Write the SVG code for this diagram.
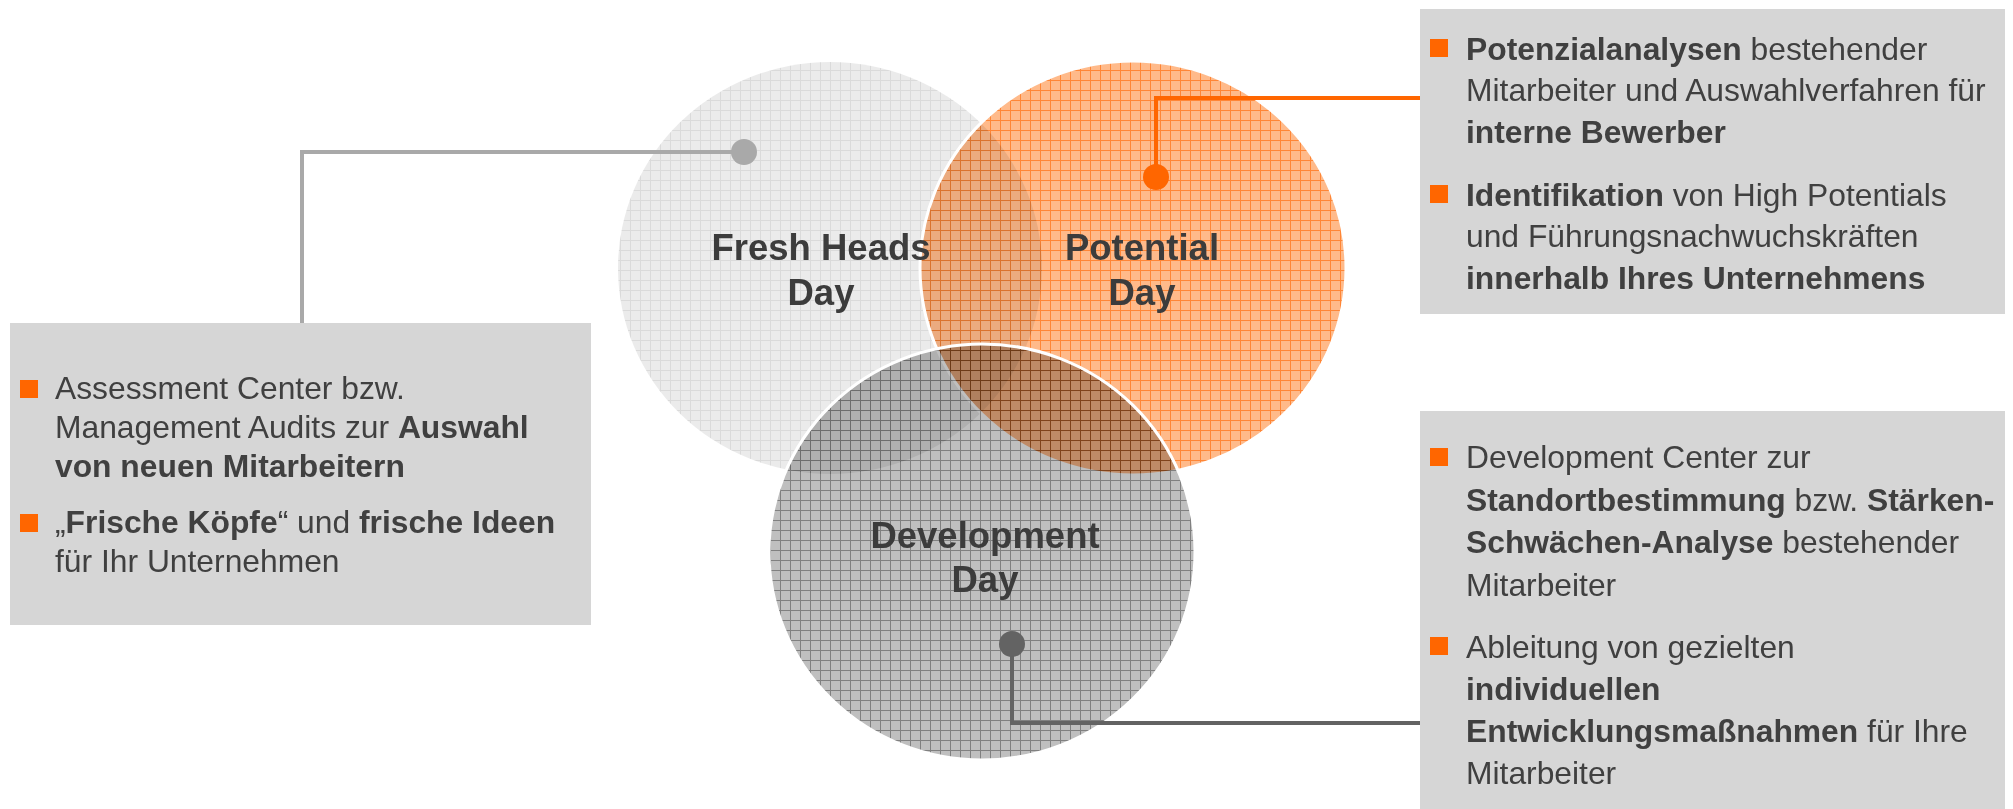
<svg xmlns="http://www.w3.org/2000/svg" width="2013" height="809" viewBox="0 0 2013 809">
  <style>
    .label { font-family: "Liberation Sans", Arial, sans-serif; font-size: 36.5px; font-weight: bold; fill: #3c3c3c; text-anchor: middle; }
    .txt { font-family: "Liberation Sans", Arial, sans-serif; font-size: 31.8px; fill: #404040; }
    .b { font-weight: bold; }
    .box { fill: #d6d6d6; }
    .bullet { fill: #ff6600; }
    .mult { mix-blend-mode: multiply; }
    .rim { fill: none; stroke: #ffffff; stroke-width: 3; }
    .conn { fill: none; stroke-width: 4; }
  </style>
  <defs>
    <pattern id="gFresh" width="10" height="10" patternUnits="userSpaceOnUse">
      <rect width="10" height="10" fill="#ebebeb"/>
      <path d="M0 0.5H10M0.5 0V10" stroke="#dadada" stroke-width="1"/>
    </pattern>
    <pattern id="gPot" width="10" height="10" patternUnits="userSpaceOnUse">
      <rect width="10" height="10" fill="#ffba8a"/>
      <path d="M0 0.5H10M0.5 0V10" stroke="#ff8636" stroke-width="1"/>
    </pattern>
    <pattern id="gDev" width="10" height="10" patternUnits="userSpaceOnUse">
      <rect width="10" height="10" fill="#bfbfbf"/>
      <path d="M0 0.5H10M0.5 0V10" stroke="#808080" stroke-width="1"/>
    </pattern>
  </defs>
  <rect width="2013" height="809" fill="#ffffff"/>

  <g id="node-fresh-heads">
    <ellipse cx="830" cy="268" rx="212" ry="206" fill="url(#gFresh)"/>
  </g>

  <g id="node-potential">
    <ellipse class="mult" cx="1133" cy="268" rx="213" ry="207" fill="url(#gPot)"/>
    <ellipse class="rim" cx="1133" cy="268" rx="213" ry="207"/>
  </g>

  <g id="node-development">
    <ellipse class="mult" cx="982" cy="552" rx="213" ry="208" fill="url(#gDev)"/>
    <ellipse class="rim" cx="982" cy="552" rx="213" ry="208"/>
  </g>

  <g id="node-labels">
    <text id="label-fresh-heads" class="label" x="821" y="260">Fresh Heads<tspan x="821" y="305">Day</tspan></text>
    <text id="label-potential" class="label" x="1142" y="260">Potential<tspan x="1142" y="305">Day</tspan></text>
    <text id="label-development" class="label" x="985" y="548">Development<tspan x="985" y="592">Day</tspan></text>
  </g>

  <g id="connectors">
    <path class="conn" stroke="#a9a9a9" d="M744 152H302V323"/>
    <circle cx="744" cy="152" r="13" fill="#a9a9a9"/>
    <path class="conn" stroke="#ff6600" d="M1156 177V98H1420"/>
    <circle cx="1156" cy="177" r="13" fill="#ff6600"/>
    <path class="conn" stroke="#636363" d="M1012 644V723H1420"/>
    <circle cx="1012" cy="644" r="13" fill="#636363"/>
  </g>

  <g id="box-fresh-heads">
    <rect class="box" x="10" y="323" width="581" height="302"/>
    <rect class="bullet" x="20" y="380" width="18" height="18"/>
    <text class="txt" x="55" y="399">Assessment Center bzw.</text>
    <text class="txt" x="55" y="438">Management Audits zur <tspan class="b">Auswahl</tspan></text>
    <text class="txt b" x="55" y="477">von neuen Mitarbeitern</text>
    <rect class="bullet" x="20" y="514" width="18" height="18"/>
    <text class="txt" x="55" y="533">„<tspan class="b">Frische Köpfe</tspan>“ und <tspan class="b">frische Ideen</tspan></text>
    <text class="txt" x="55" y="572">für Ihr Unternehmen</text>
  </g>

  <g id="box-potential">
    <rect class="box" x="1420" y="9" width="585" height="305"/>
    <rect class="bullet" x="1430" y="39" width="18" height="18"/>
    <text class="txt" x="1466" y="60"><tspan class="b">Potenzialanalysen</tspan> bestehender</text>
    <text class="txt" x="1466" y="101">Mitarbeiter und Auswahlverfahren für</text>
    <text class="txt b" x="1466" y="143">interne Bewerber</text>
    <rect class="bullet" x="1430" y="185" width="18" height="18"/>
    <text class="txt" x="1466" y="206"><tspan class="b">Identifikation</tspan> von High Potentials</text>
    <text class="txt" x="1466" y="247">und Führungsnachwuchskräften</text>
    <text class="txt b" x="1466" y="289">innerhalb Ihres Unternehmens</text>
  </g>

  <g id="box-development">
    <rect class="box" x="1420" y="411" width="585" height="398"/>
    <rect class="bullet" x="1430" y="448" width="18" height="18"/>
    <text class="txt" x="1466" y="468">Development Center zur</text>
    <text class="txt" x="1466" y="511"><tspan class="b">Standortbestimmung</tspan> bzw. <tspan class="b">Stärken-</tspan></text>
    <text class="txt" x="1466" y="553"><tspan class="b">Schwächen-Analyse</tspan> bestehender</text>
    <text class="txt" x="1466" y="596">Mitarbeiter</text>
    <rect class="bullet" x="1430" y="637" width="18" height="18"/>
    <text class="txt" x="1466" y="658">Ableitung von gezielten</text>
    <text class="txt b" x="1466" y="700">individuellen</text>
    <text class="txt" x="1466" y="742"><tspan class="b">Entwicklungsmaßnahmen</tspan> für Ihre</text>
    <text class="txt" x="1466" y="784">Mitarbeiter</text>
  </g>
</svg>
